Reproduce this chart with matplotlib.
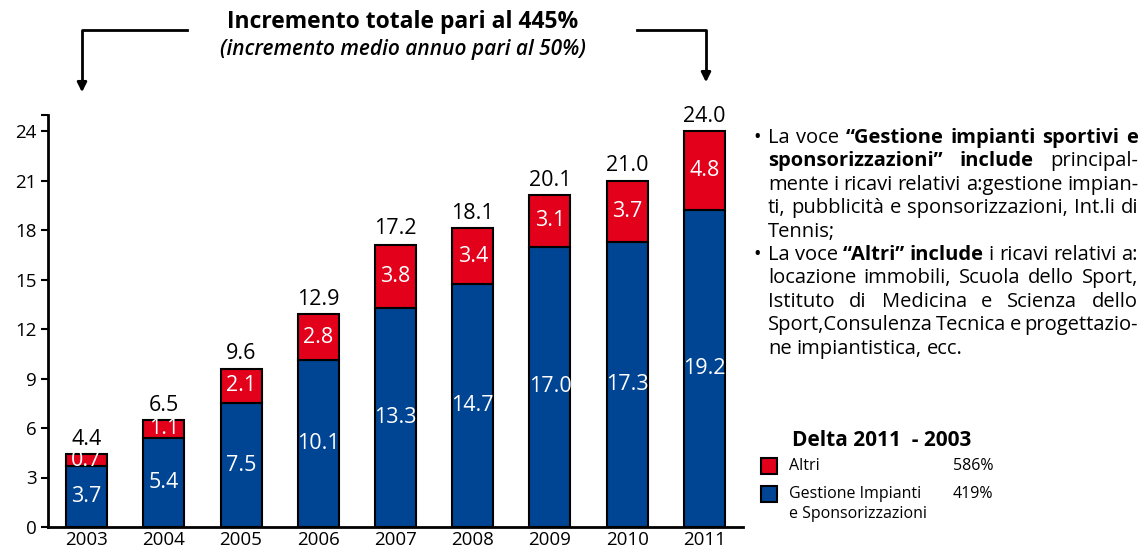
import matplotlib
matplotlib.use("Agg")
import matplotlib.pyplot as plt
from matplotlib.lines import Line2D
from matplotlib.patches import Rectangle

years = ["2003", "2004", "2005", "2006", "2007", "2008", "2009", "2010", "2011"]
gestione = [3.7, 5.4, 7.5, 10.1, 13.3, 14.7, 17.0, 17.3, 19.2]
altri = [0.7, 1.1, 2.1, 2.8, 3.8, 3.4, 3.1, 3.7, 4.8]
totali = [4.4, 6.5, 9.6, 12.9, 17.2, 18.1, 20.1, 21.0, 24.0]
yticks = [0, 3, 6, 9, 12, 15, 18, 21, 24]

RED = "#E2001A"
BLUE = "#004494"
FONT = ["Open Sans", "DejaVu Sans"]
plt.rcParams["font.family"] = FONT

W, H = 1145, 553
fig = plt.figure(figsize=(W / 100, H / 100), dpi=100)
ax = fig.add_axes([48 / W, (H - 527) / H, (743 - 48) / W, (527 - 114.5) / H])

x = list(range(len(years)))
bw = 0.53
ax.bar(x, gestione, width=bw, color=BLUE, edgecolor="black", linewidth=1.5, zorder=2)
ax.bar(x, altri, width=bw, bottom=gestione, color=RED, edgecolor="black", linewidth=1.5, zorder=2)

for i in x:
    ax.text(i, gestione[i] / 2, f"{gestione[i]:.1f}", ha="center", va="center",
            color="white", fontsize=15.5, zorder=3)
    ax.text(i, gestione[i] + altri[i] / 2, f"{altri[i]:.1f}", ha="center", va="center",
            color="white", fontsize=15.5, zorder=3)
    ax.annotate(f"{totali[i]:.1f}", (i, totali[i]), xytext=(0, 3), textcoords="offset points",
                ha="center", va="bottom", fontsize=15.5, color="black")

ax.set_xlim(-0.5, 8.5)
ax.set_ylim(0, 25)
ax.set_xticks(x)
ax.set_xticklabels(years, fontsize=13.5)
ax.set_yticks(yticks + [25])
ax.set_yticklabels([str(v) for v in yticks] + [""], fontsize=13.5)
ax.tick_params(axis="x", length=0, pad=3)
ax.tick_params(axis="y", length=5, width=1.5, pad=3)
for s in ["top", "right"]:
    ax.spines[s].set_visible(False)
for s in ["left", "bottom"]:
    ax.spines[s].set_linewidth(2)

# overlay in pixel coordinates
ov = fig.add_axes([0, 0, 1, 1], zorder=-1)
ov.set_xlim(0, W)
ov.set_ylim(H, 0)
ov.axis("off")

# title and arrows
ov.text(403, 22, "Incremento totale pari al 445%", ha="center", va="center",
        fontsize=16.5, fontweight="bold")
ov.text(403, 50, "(incremento medio annuo pari al 50%)", ha="center", va="center",
        fontsize=15, fontweight="semibold", style="italic")
ov.add_line(Line2D([187, 82, 82], [30, 30, 85], color="black", lw=2))
ov.annotate("", xy=(82, 95), xytext=(82, 80),
            arrowprops=dict(arrowstyle="-|>", color="black", lw=2, mutation_scale=14))
ov.add_line(Line2D([637, 706, 706], [30, 30, 74], color="black", lw=2))
ov.annotate("", xy=(706, 85), xytext=(706, 70),
            arrowprops=dict(arrowstyle="-|>", color="black", lw=2, mutation_scale=14))

# justified notes
renderer = fig.canvas.get_renderer()
x0, x1 = 768, 1138
FS = 14.5
paras = [
    [
        [("La voce", False), ("“Gestione impianti sportivi e", True)],
        [("sponsorizzazioni” include", True), ("principal-", False)],
        [("mente i ricavi relativi a:gestione impian-", False)],
        [("ti, pubblicità e sponsorizzazioni, Int.li di", False)],
        [("Tennis;", False)],
    ],
    [
        [("La voce", False), ("“Altri” include", True), ("i ricavi relativi a:", False)],
        [("locazione immobili, Scuola dello Sport,", False)],
        [("Istituto di Medicina e Scienza dello", False)],
        [("Sport,Consulenza Tecnica e progettazio-", False)],
        [("ne impiantistica, ecc.", False)],
    ],
]


def split_words(line):
    words = []
    for seg, bold in line:
        for w in seg.split(" "):
            if w:
                words.append((w, bold))
    return words


sw = 0.26 * FS * 100 / 72  # approximate space width in pixels
y = 138
lh = 23.4
for para in paras:
    ov.text(757, y, "•", ha="center", va="center", fontsize=FS)
    for li, line in enumerate(para):
        words = split_words(line)
        arts = [ov.text(0, y, w, fontsize=FS, va="center", ha="left",
                        fontweight="bold" if b else "normal") for w, b in words]
        widths = [a.get_window_extent(renderer).width for a in arts]
        last = li == len(para) - 1
        if last or len(arts) == 1:
            gap = sw
        else:
            gap = max((x1 - x0 - sum(widths)) / (len(arts) - 1), 0.45 * sw)
        cx = x0
        for a, wd in zip(arts, widths):
            a.set_x(cx)
            cx += wd + gap
        y += lh

# legend block
ov.text(882, 440, "Delta 2011  - 2003", ha="center", va="center", fontsize=15, fontweight="bold")
ov.add_patch(Rectangle((761, 458), 16, 16, facecolor=RED, edgecolor="black", lw=1.5))
ov.add_patch(Rectangle((761, 486), 16, 16, facecolor=BLUE, edgecolor="black", lw=1.5))
ov.text(789, 466, "Altri", ha="left", va="center", fontsize=11.5)
ov.text(953, 466, "586%", ha="left", va="center", fontsize=11.5)
ov.text(789, 494, "Gestione Impianti", ha="left", va="center", fontsize=11.5)
ov.text(789, 514, "e Sponsorizzazioni", ha="left", va="center", fontsize=11.5)
ov.text(953, 494, "419%", ha="left", va="center", fontsize=11.5)

fig.savefig("out.png", dpi=100)
